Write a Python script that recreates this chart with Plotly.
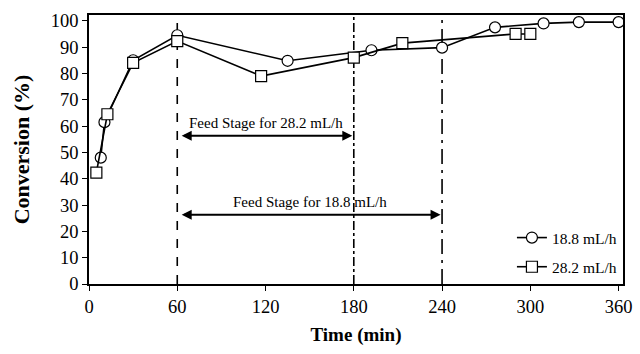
import plotly.graph_objects as go

# Data
t_188 = [8, 10.5, 30, 60, 135, 192, 240, 276, 309, 333, 360]
c_188 = [48, 61.5, 85, 94.5, 84.8, 88.8, 89.8, 97.5, 99, 99.5, 99.5]

t_282 = [5, 12.5, 30, 60, 117, 180, 213, 290, 300]
c_282 = [42.3, 64.5, 84, 92.3, 79, 86, 91.5, 95, 95]

x_ticks = [0, 60, 120, 180, 240, 300, 360]
y_ticks = [0, 10, 20, 30, 40, 50, 60, 70, 80, 90, 100]

stage_lines = [60, 180, 240]
stage_dashes = ["dash", "dashdot", "longdashdot"]

arrow_282 = (60, 180, 56.3, "Feed Stage for 28.2 mL/h")
arrow_188 = (60, 240, 26.3, "Feed Stage for 18.8 mL/h")

FONT = "Liberation Serif"

fig = go.Figure()
fig.add_trace(go.Scatter(
    x=t_188, y=c_188, mode="lines+markers", name="18.8 mL/h", legendgroup="a",
    line=dict(color="black", width=1.6),
    marker=dict(symbol="circle", size=11, color="white", line=dict(color="black", width=1.2)),
))
fig.add_trace(go.Scatter(
    x=t_282, y=c_282, mode="lines+markers", name="28.2 mL/h", legendgroup="b",
    line=dict(color="black", width=1.6),
    marker=dict(symbol="square", size=11, color="white", line=dict(color="black", width=1.2)),
))

for xv, d in zip(stage_lines, stage_dashes):
    fig.add_shape(type="line", x0=xv, x1=xv, y0=0, y1=1, xref="x", yref="paper",
                  line=dict(color="black", width=1.6, dash=d), layer="below")

for x0, x1, yv, label in [arrow_282, arrow_188]:
    fig.add_annotation(x=x1 - 1, y=yv, ax=x0 + 2, ay=yv, xref="x", yref="y",
                       axref="x", ayref="y", text="", showarrow=True,
                       arrowhead=2, arrowside="end+start", arrowsize=1,
                       arrowwidth=2, arrowcolor="black")
    fig.add_annotation(x=(x0 + x1) / 2, y=yv, xref="x", yref="y", text=label,
                       showarrow=False, yanchor="bottom", yshift=3,
                       font=dict(family=FONT, size=15, color="black"))

fig.update_layout(
    width=640, height=354,
    margin=dict(l=89, r=8, t=15, b=70),
    plot_bgcolor="white", paper_bgcolor="white",
    font=dict(family=FONT, size=18, color="black"),
    showlegend=True,
    legend=dict(x=0.998, y=0.0, xanchor="right", yanchor="bottom",
                bgcolor="rgba(0,0,0,0)", borderwidth=0,
                font=dict(family=FONT, size=15.5, color="black"),
                tracegroupgap=6, itemwidth=30),
)
fig.update_xaxes(
    range=[0, 363], tickvals=x_ticks, ticktext=[str(v) for v in x_ticks],
    ticks="outside", ticklen=5, tickcolor="black", showgrid=False, zeroline=False,
    showline=True, linecolor="black", linewidth=1.5, mirror=True,
    title=dict(text="<b>Time (min)</b>", font=dict(family=FONT, size=19), standoff=12),
    tickfont=dict(family=FONT, size=18.5),
)
fig.update_yaxes(
    range=[0, 102.2], tickvals=y_ticks, ticktext=[str(v) for v in y_ticks],
    ticks="outside", ticklen=5, tickcolor="black", showgrid=False, zeroline=False,
    showline=True, linecolor="black", linewidth=1.5, mirror=True,
    title=dict(text="<b>Conversion (%)</b>", font=dict(family=FONT, size=22), standoff=15),
    tickfont=dict(family=FONT, size=18.5),
)

fig.write_html("out.html")
